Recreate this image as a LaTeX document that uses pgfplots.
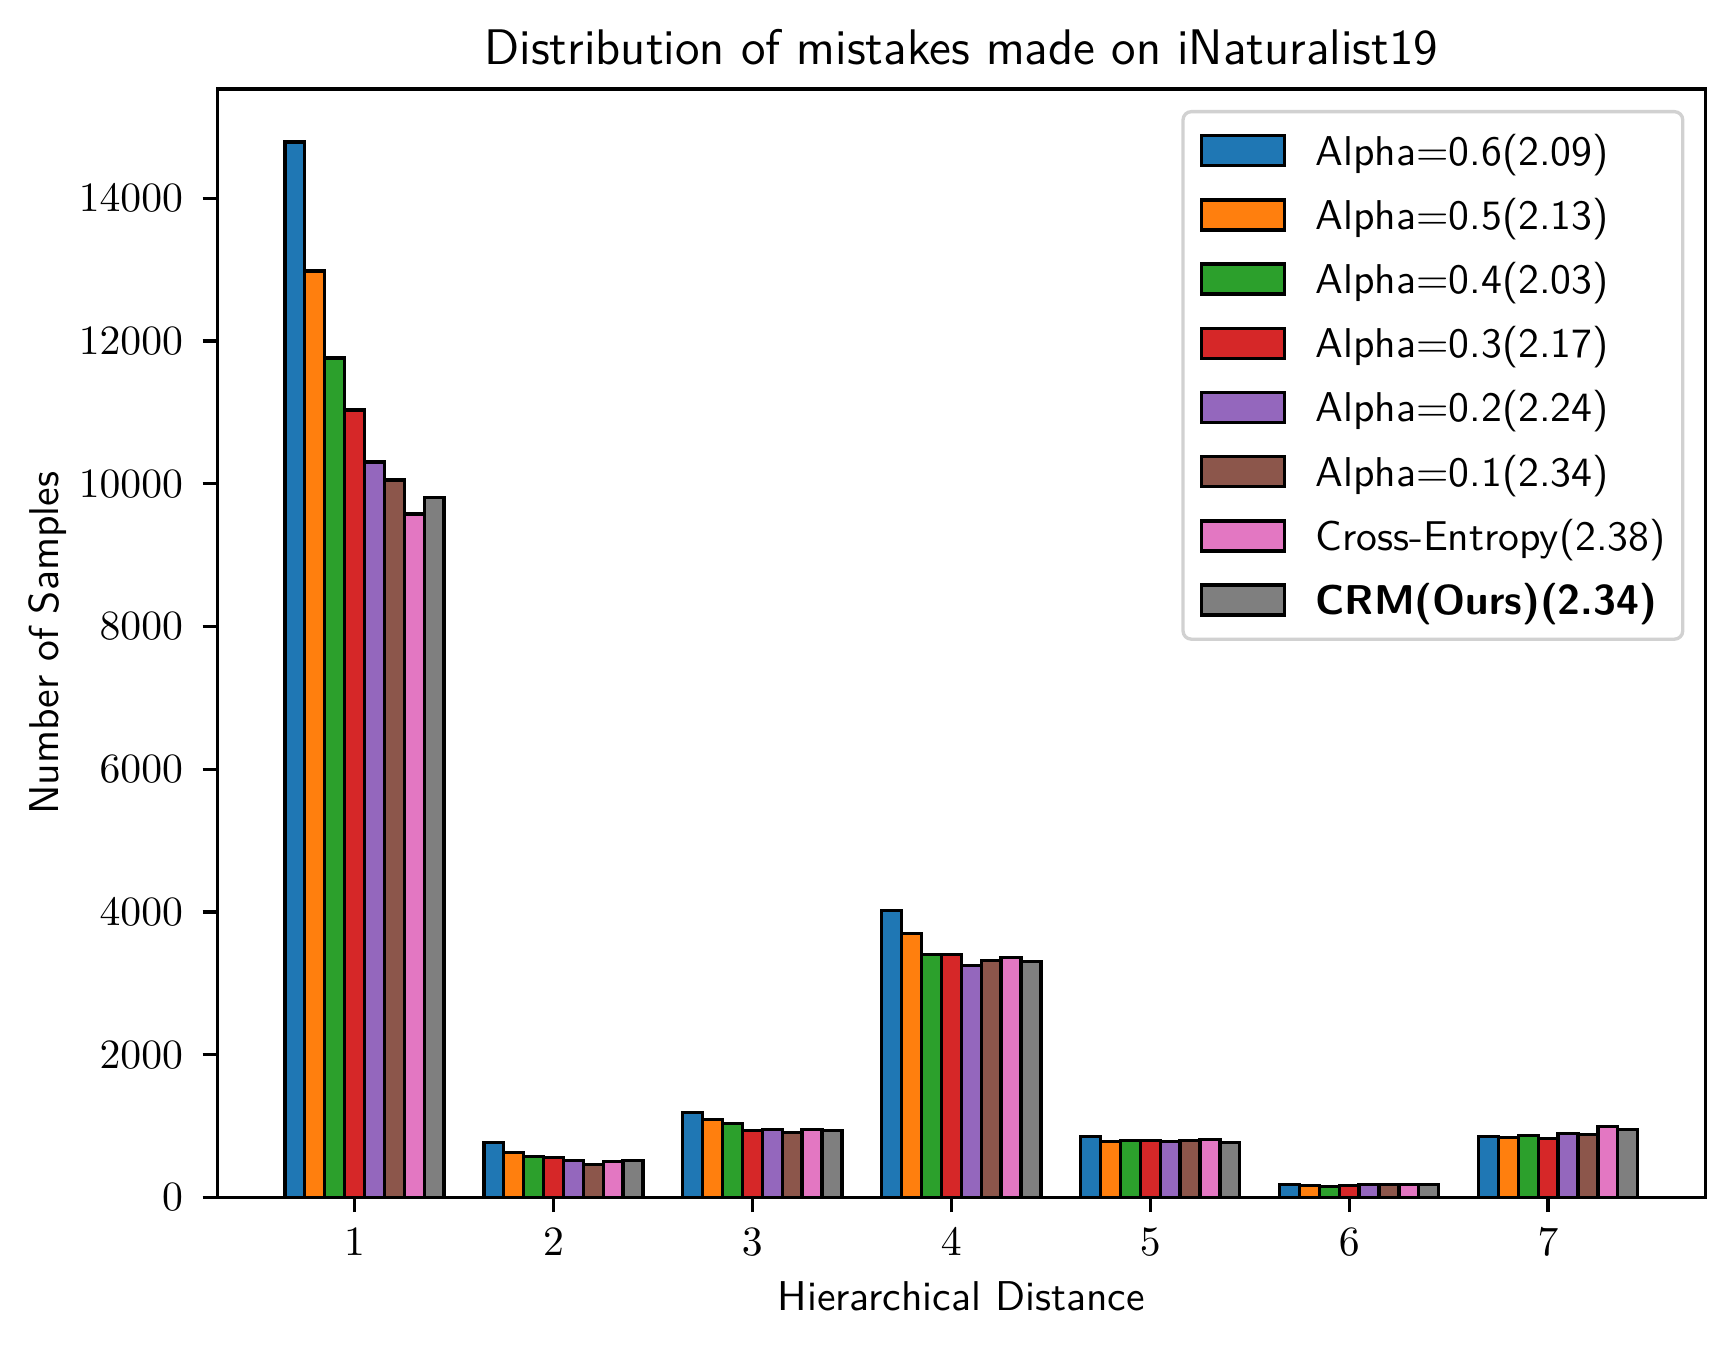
\documentclass[border=0pt]{standalone}
\usepackage{pgfplots}
\pgfplotsset{compat=1.18}
\definecolor{c0}{HTML}{1F77B4}
\definecolor{c1}{HTML}{FF7F0E}
\definecolor{c2}{HTML}{2CA02C}
\definecolor{c3}{HTML}{D62728}
\definecolor{c4}{HTML}{9467BD}
\definecolor{c5}{HTML}{8C564B}
\definecolor{c6}{HTML}{E377C2}
\definecolor{c7}{HTML}{7F7F7F}
\begin{document}
\begin{tikzpicture}
\begin{axis}[
  scale only axis, width=357.1pt, height=266pt,
  xmin=0.31, xmax=7.79, ymin=0, ymax=15530,
  xtick={1,...,7}, ytick={0,2000,...,14000},
  yticklabel style={/pgf/number format/1000 sep={}, xshift=-1.2pt},
  xticklabel style={yshift=-0.5pt},
  scaled y ticks=false,
  tick align=outside, tick pos=left, major tick length=3.5pt,
  every tick/.style={black, line width=0.8pt},
  axis line style={line width=0.8pt},
  title={\large\sffamily Distribution of mistakes made on iNaturalist19},
  title style={at={(0.5,1)}, anchor=base},
  xlabel={\sffamily Hierarchical Distance},
  xlabel style={at={(0.5,0)}, anchor=base, yshift=-27.2pt},
  ylabel={\sffamily Number of Samples},
  ylabel style={at={(axis description cs:-0.1065,0.5)}, anchor=base},
  legend style={at={(1,1)}, anchor=north east, xshift=-5pt, yshift=-5pt,
    draw=black!18, line width=0.8pt, rounded corners=2pt, font=\sffamily,
    inner xsep=4.1pt, inner ysep=1.7pt, row sep=0pt,
    nodes={inner xsep=0pt, inner ysep=4.25pt, text height=6.9pt, text depth=0pt},
    /tikz/every odd column/.append style={column sep=7.1pt}},
  legend cell align=left,
  legend image code/.code={\draw[#1, sharp corners, line width=0.8pt] (0pt,-3.6pt) rectangle (19.8pt,3.6pt);},
]
\addplot[ybar, bar width=0.1, bar shift=-0.3, fill=c0, draw=black, line width=0.8pt] coordinates {(1,14790) (2,775) (3,1190) (4,4020) (5,854) (6,182) (7,854)};
\addplot[ybar, bar width=0.1, bar shift=-0.2, fill=c1, draw=black, line width=0.8pt] coordinates {(1,12983) (2,630) (3,1092) (4,3697) (5,784) (6,168) (7,840)};
\addplot[ybar, bar width=0.1, bar shift=-0.1, fill=c2, draw=black, line width=0.8pt] coordinates {(1,11765) (2,574) (3,1036) (4,3403) (5,803) (6,154) (7,868)};
\addplot[ybar, bar width=0.1, bar shift=0.0, fill=c3, draw=black, line width=0.8pt] coordinates {(1,11036) (2,564) (3,943) (4,3403) (5,803) (6,172) (7,826)};
\addplot[ybar, bar width=0.1, bar shift=0.1, fill=c4, draw=black, line width=0.8pt] coordinates {(1,10308) (2,518) (3,952) (4,3249) (5,784) (6,186) (7,896)};
\addplot[ybar, bar width=0.1, bar shift=0.2, fill=c5, draw=black, line width=0.8pt] coordinates {(1,10056) (2,467) (3,915) (4,3319) (5,798) (6,186) (7,882)};
\addplot[ybar, bar width=0.1, bar shift=0.3, fill=c6, draw=black, line width=0.8pt] coordinates {(1,9575) (2,508) (3,952) (4,3366) (5,817) (6,186) (7,994)};
\addplot[ybar, bar width=0.1, bar shift=0.4, fill=c7, draw=black, line width=0.8pt] coordinates {(1,9808) (2,522) (3,938) (4,3305) (5,775) (6,186) (7,952)};
\legend{Alpha=0.6(2.09), Alpha=0.5(2.13), Alpha=0.4(2.03), Alpha=0.3(2.17), Alpha=0.2(2.24), Alpha=0.1(2.34), Cross-Entropy(2.38), \textbf{CRM(Ours)(2.34)}}
\end{axis}
\pgfresetboundingbox
\useasboundingbox ([xshift=-52.15pt,yshift=-36.07pt]current axis.south west) rectangle ([xshift=6.9pt,yshift=21.4pt]current axis.north east);
\end{tikzpicture}
\end{document}
